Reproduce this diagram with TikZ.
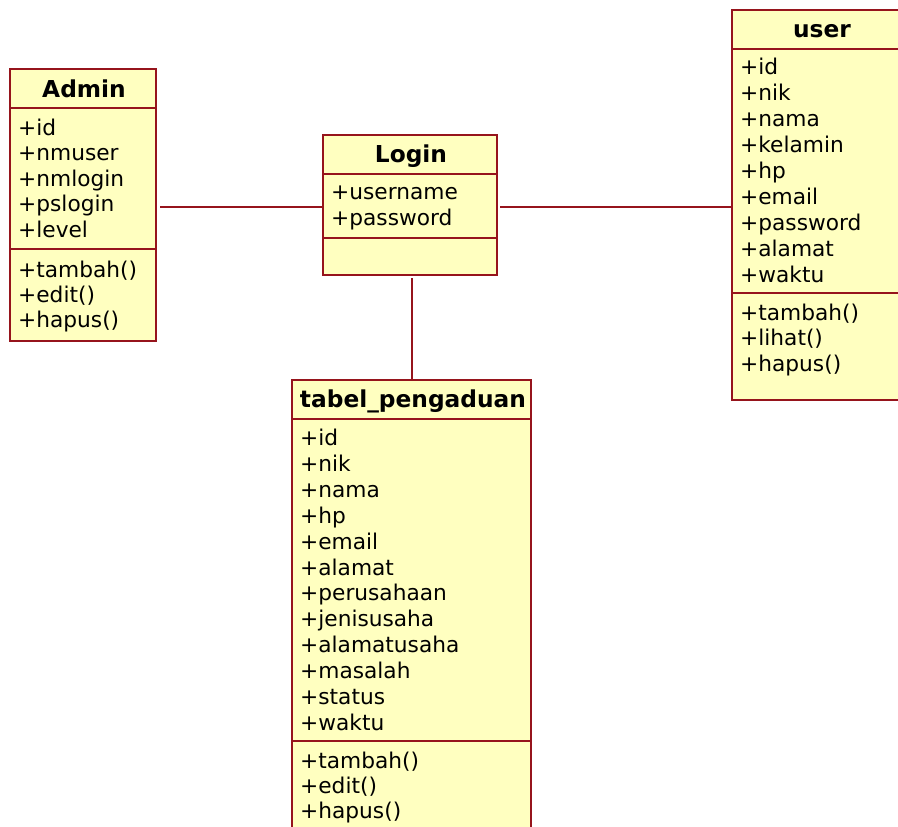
\documentclass[tikz,border=0pt]{standalone}
\usepackage{fontspec}
\setmainfont{DejaVu Sans}
\definecolor{umlfill}{RGB}{255,255,192}
\definecolor{umlline}{RGB}{150,20,28}
\tikzset{
  classbox/.style={draw=umlline, fill=umlfill, line width=1.8pt},
  sepline/.style={draw=umlline, line width=1.8pt},
  assoc/.style={draw=umlline, line width=1.5pt},
  member/.style={anchor=base west, inner sep=0pt, font=\fontsize{21.7}{26}\selectfont},
  ctitle/.style={anchor=base, inner sep=0pt, font=\fontsize{23.3}{27}\selectfont\bfseries},
}
\begin{document}
\begin{tikzpicture}[x=1pt, y=-1pt]
\useasboundingbox (0,0) rectangle (898,827);
\begin{scope}
\clip (0,0) rectangle (898,827);

% ---- Admin ----
\path[classbox] (10,69) rectangle (156,341);
\draw[sepline] (10,108) -- (156,108);
\draw[sepline] (10,249) -- (156,249);
\node[ctitle] (admT) at (84,97) {Admin};
\node[member] (adm1) at (18,135) {+id};
\node[member] (adm2) at (18,160.5) {+nmuser};
\node[member] (adm3) at (18,186) {+nmlogin};
\node[member] (adm4) at (18,211.5) {+pslogin};
\node[member] (adm5) at (18,237) {+level};
\node[member] (adm6) at (18,277) {+tambah()};
\node[member] (adm7) at (18,302) {+edit()};
\node[member] (adm8) at (18,327) {+hapus()};
\coordinate (admR) at (160,207);

% ---- Login ----
\path[classbox] (323,135) rectangle (497,275);
\draw[sepline] (323,174) -- (497,174);
\draw[sepline] (323,238) -- (497,238);
\node[ctitle] (logT) at (411,162) {Login};
\node[member] (log1) at (331,199) {+username};
\node[member] (log2) at (331,225) {+password};
\coordinate (logL) at (323,207);
\coordinate (logR) at (500,207);
\coordinate (logB) at (412,278);

% ---- user ----
\path[classbox] (732,10) rectangle (905,400);
\draw[sepline] (732,49) -- (905,49);
\draw[sepline] (732,293) -- (905,293);
\node[ctitle] (usrT) at (822,37) {user};
\node[member] (usr1) at (740,74) {+id};
\node[member] (usr2) at (740,100) {+nik};
\node[member] (usr3) at (740,126) {+nama};
\node[member] (usr4) at (740,152) {+kelamin};
\node[member] (usr5) at (740,178) {+hp};
\node[member] (usr6) at (740,204) {+email};
\node[member] (usr7) at (740,230) {+password};
\node[member] (usr8) at (740,256) {+alamat};
\node[member] (usr9) at (740,282) {+waktu};
\node[member] (usr10) at (740,320) {+tambah()};
\node[member] (usr11) at (740,345.5) {+lihat()};
\node[member] (usr12) at (740,371) {+hapus()};
\coordinate (usrL) at (732,207);

% ---- tabel_pengaduan ----
\path[classbox] (292,380) rectangle (531,840);
\draw[sepline] (292,419) -- (531,419);
\draw[sepline] (292,741) -- (531,741);
\node[ctitle] (tabT) at (413,407) {tabel\_pengaduan};
\node[member] (tab1) at (300,445) {+id};
\node[member] (tab2) at (300,471) {+nik};
\node[member] (tab3) at (300,497) {+nama};
\node[member] (tab4) at (300,523) {+hp};
\node[member] (tab5) at (300,549) {+email};
\node[member] (tab6) at (300,575) {+alamat};
\node[member] (tab7) at (300,600.5) {+perusahaan};
\node[member] (tab8) at (300,626) {+jenisusaha};
\node[member] (tab9) at (300,652) {+alamatusaha};
\node[member] (tab10) at (300,678) {+masalah};
\node[member] (tab11) at (300,704) {+status};
\node[member] (tab12) at (300,730) {+waktu};
\node[member] (tab13) at (300,768) {+tambah()};
\node[member] (tab14) at (300,793) {+edit()};
\node[member] (tab15) at (300,818) {+hapus()};
\coordinate (tabTop) at (412,380);

% ---- associations ----
\draw[assoc] (admR) -- (logL);
\draw[assoc] (logR) -- (usrL);
\draw[assoc] (logB) -- (tabTop);
\end{scope}
\end{tikzpicture}
\end{document}
